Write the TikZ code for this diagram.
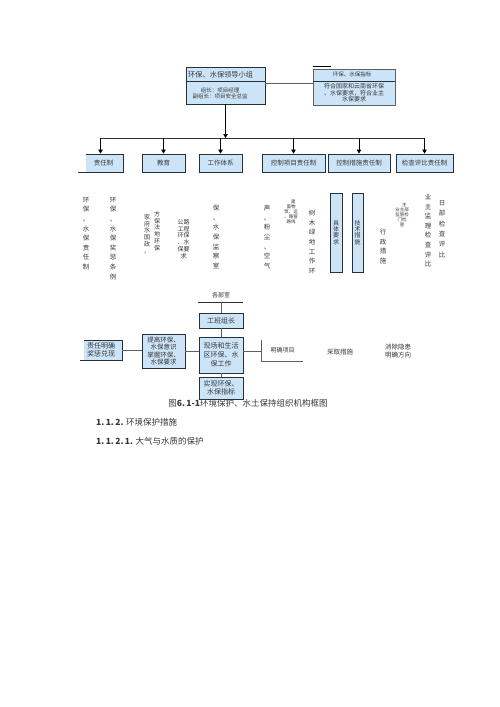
\documentclass[tikz,border=0pt]{standalone}
\usepackage{fontspec}
\setmainfont{Noto Sans CJK SC}
\usepackage{tikz}
\usetikzlibrary{arrows.meta,positioning}

\definecolor{boxblue}{RGB}{204,228,248}
\definecolor{boxline}{RGB}{40,48,58}
\definecolor{linegray}{RGB}{95,95,95}
\definecolor{txt}{RGB}{55,55,55}

% one character per line
\newcommand\vstack[1]{\vstackA#1\relax}
\def\vstackA#1{#1\vstackB}
\def\vstackB#1{\ifx\relax#1\else\\#1\expandafter\vstackB\fi}

\begin{document}
\begin{tikzpicture}[x=1pt, y=-1pt, every node/.style={text=txt, inner sep=0pt},
  box/.style={draw=boxline, fill=boxblue, line width=0.9pt, align=center, font=\fontsize{6.5}{8}\selectfont},
  link/.style={draw=linegray, line width=0.7pt},
  arr/.style={-{Triangle[length=4pt,width=4.5pt]}, draw=black, line width=0.7pt},
  vcol/.style={anchor=north, align=center, font=\fontsize{6.5}{9.6}\selectfont},
  tiny/.style={anchor=north, align=center, font=\fontsize{4.5}{5}\selectfont}]
  \useasboundingbox[fill=white] (0,0) rectangle (500,707);

  % leading group and targets
  \node[box, minimum width=79, minimum height=37] (lead) at (225.5,85.5) {};
  \draw[boxline, line width=1pt] ([yshift=-15pt]lead.north west) -- ([yshift=-15pt]lead.north east);
  \node[anchor=west, font=\fontsize{7.2}{8}\selectfont] (leadt) at (188,74.5) {环保、水保领导小组};
  \node[align=center, font=\fontsize{5.5}{6.8}\selectfont] (leadm) at (220,93.5) {组长：项目经理\\副组长：项目安全总监};

  \node[box, draw=linegray, line width=0.6pt, minimum width=82, minimum height=36] (goal) at (354,87) {};
  \draw[boxline, line width=1.2pt] ([yshift=-13pt]goal.north west) -- ([yshift=-13pt]goal.north east);
  \draw[black, line width=1.5pt] ([yshift=2pt]goal.north west) -- +(18,0);
  \node[font=\fontsize{5.5}{6}\selectfont] (goalt) at (352,74.5) {环保、水保指标};
  \node[align=center, font=\fontsize{6}{6.5}\selectfont] (goalm) at (354,93) {符合国家和云南省环保\\、水保要求，符合业主\\水保要求};
  \draw[link] ([yshift=2pt]lead.east) -- ([yshift=2pt]lead.east -| goal.west);

  % second row
  \node[box, minimum width=45, minimum height=18] (resp) at (100.5,163) {\hspace*{6pt}责任制};
  \fill[white] ([shift={(-1pt,-0.6pt)}]resp.north west) rectangle ([shift={(8pt,0.6pt)}]resp.south west);
  \node[box, minimum width=43, minimum height=18] (edu) at (163.5,163) {教育};
  \node[box, minimum width=43, minimum height=18] (sys) at (220.5,163) {工作体系};
  \node[box, minimum width=63, minimum height=18] (proj) at (293.5,163) {控制项目责任制};
  \node[box, minimum width=62, minimum height=18] (meas) at (359,163) {控制措施责任制};
  \node[box, minimum width=57, minimum height=18] (chk) at (424.5,163) {检查评比责任制};

  \coordinate (bus) at (225.5,138);
  \draw[arr] (lead.south) -- (bus);
  \draw[link, draw=black!80] (resp.north |- bus) -- (chk.north |- bus);
  \foreach \n in {resp,edu,sys,proj,meas,chk}
    \draw[arr] (\n.north |- bus) -- (\n.north);

  % vertical texts
  \node[vcol] (c1) at (86,197) {\vstack{环保、水保责任制}};
  \node[vcol] (c2) at (113,197) {\vstack{环保、水保奖惩条例}};
  \node[vcol, font=\fontsize{6}{6.8}\selectfont] (c3a) at (147,214) {\vstack{家府水国政、}};
  \node[vcol, font=\fontsize{6}{6.8}\selectfont] (c3b) at (157,211) {\vstack{方保法地环保}};
  \node[vcol, font=\fontsize{6}{6.8}\selectfont] (c4) at (183.5,219) {公路\\工程\\环保\\、水\\保要\\求};
  \node[vcol] (c5) at (216,205) {\vstack{保、水保监察室}};
  \node[vcol] (c6) at (267,205) {\vstack{声、粉尘、空气}};
  \node[tiny] (c7) at (291,200) {\hphantom{面}建\\面物\\筑、运\\、路管\\路线};
  \node[vcol] (c8) at (312,210) {\vstack{树木绿地工作环}};
  \node[box, minimum width=12, minimum height=79, font=\fontsize{6}{6.3}\selectfont] (req) at (336,232.5) {\vstack{具体要求}};
  \node[box, minimum width=11, minimum height=79, font=\fontsize{6}{6.3}\selectfont] (tech) at (357.5,232.5) {\vstack{技术措施}};
  \node[vcol] (c11) at (383,229) {\vstack{行政措施}};
  \node[tiny] (c12) at (402,203) {\hphantom{业}主\\业主部\\监管检\\门检\\查};
  \node[vcol] (c13) at (428,194) {\vstack{业主监理检查评比}};
  \node[vcol, font=\fontsize{6.5}{10.4}\selectfont] (c14) at (442,200) {\vstack{日部检查评比}};

  % site part
  \node[font=\fontsize{6}{7}\selectfont] (dept) at (221,295) {各部室};
  \coordinate (bar) at (221,302);
  \draw[boxline, line width=1pt] ([xshift=-23pt]bar) -- ([xshift=22pt]bar);
  \node[box, minimum width=44, minimum height=15, font=\fontsize{7}{8}\selectfont] (crew) at (221,320.5) {工班组长};
  \node[box, minimum width=44, minimum height=36, font=\fontsize{7}{9}\selectfont] (site) at (221,355) {现场和生活\\区环保、水\\保工作};
  \node[box, minimum width=44, minimum height=22, font=\fontsize{7}{8.5}\selectfont] (real) at (221,388) {实现环保、\\水保指标};
  \node[box, minimum width=43, minimum height=34, font=\fontsize{6.5}{7.5}\selectfont] (aware) at (163.5,351) {提高环保、\\水保意识\\掌握环保、\\水保要求};
  \node[box, minimum width=42, minimum height=20, font=\fontsize{7}{8.5}\selectfont] (duty) at (101,350) {责任明确\\奖惩兑现};
  \fill[white] ([shift={(-1pt,-0.6pt)}]duty.north west) rectangle ([shift={(4pt,0.6pt)}]duty.south west);
  \node[minimum width=41, minimum height=21, font=\fontsize{6}{7}\selectfont] (item) at (282.5,350.5) {明确项目};
  \node[font=\fontsize{6.5}{7}\selectfont] (act) at (340,352) {采取措施};
  \node[align=center, font=\fontsize{6.5}{8}\selectfont] (fix) at (398,351.5) {消除隐患\\明确方向};

  \draw[link] (bar) -- (crew);
  \draw[link] (crew) -- (site);
  \draw[link] (site) -- (real);
  \draw[link] (duty.east) -- (duty.east -| aware.west);
  \draw[link] (aware.east) -- (aware.east -| site.west);
  \draw[link] (aware.east -| site.east) -- (aware.east -| item.west);
  \draw[link] (item.north west) -- (item.south west) -- (item.south east);

  % caption and headings
  \node[font=\fontsize{8.5}{10}\selectfont] (cap) at (248,403) {图\textbf{6.\,1-1}环境保护、水土保持组织机构框图};
  \node[anchor=west, font=\fontsize{8.5}{10}\selectfont] (h1) at (96,422) {\textbf{1.\,1.\,2.} 环境保护措施};
  \node[anchor=west, font=\fontsize{8.5}{10}\selectfont] (h2) at (96,441) {\textbf{1.\,1.\,2.\,1.} 大气与水质的保护};
\end{tikzpicture}
\end{document}
